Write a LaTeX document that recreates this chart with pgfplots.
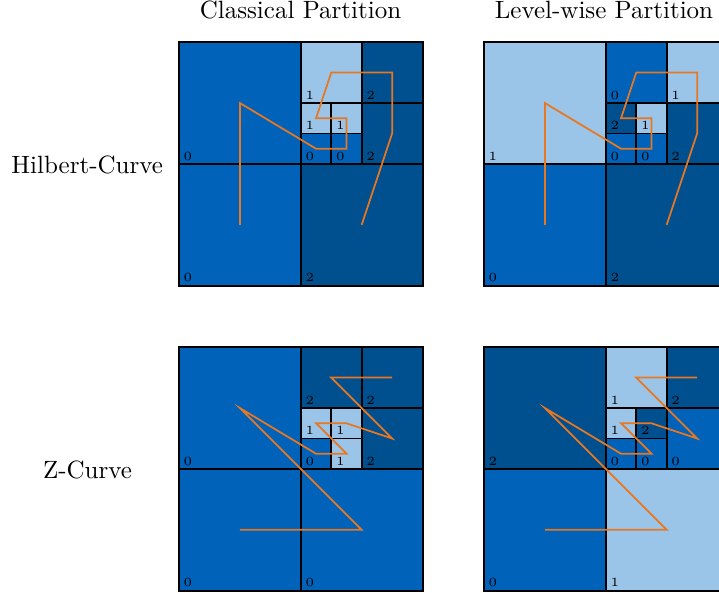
\documentclass[border=0pt]{standalone}
\usepackage{pgfplots}
\pgfplotsset{compat=1.18}

\definecolor{lv0}{HTML}{0062B8}
\definecolor{lv1}{HTML}{9BC5E8}
\definecolor{lv2}{HTML}{00508F}
\definecolor{curve}{HTML}{E87722}

% one partition cell: x0, y0, x1, y1, level value (fill colour and corner label)
\newcommand{\cell}[5]{%
  \addplot[draw=black, line width=0.65pt, fill=lv#5] coordinates {(#1,#2) (#3,#2) (#3,#4) (#1,#4)} -- cycle;
  \node[cellnum] at (axis cs:#1,#2) {#5};
}

\pgfplotsset{
  quadgrid/.style={
    anchor=south west,
    xmin=0, xmax=4, ymin=0, ymax=4,
    x=24.36pt, y=24.36pt,
    enlargelimits=false,
    xtick=\empty, ytick=\empty,
    axis line style={line width=0.85pt},
    axis on top, clip=false,
  },
  sfc/.style={color=curve, line width=0.7pt, mark=none},
}
\tikzset{cellnum/.style={anchor=base west, inner sep=0pt, font=\tiny, xshift=1.7pt, yshift=1.5pt}}

\begin{document}
\begin{tikzpicture}

% Hilbert curve, classical partition
\begin{axis}[quadgrid, at={(71.6pt,122.9pt)}]
  \cell{0}{0}{2}{2}{0}
  \cell{0}{2}{2}{4}{0}
  \cell{2}{0}{4}{2}{2}
  \cell{2}{3}{3}{4}{1}
  \cell{3}{3}{4}{4}{2}
  \cell{3}{2}{4}{3}{2}
  \cell{2}{2}{2.5}{2.5}{0}
  \cell{2.5}{2}{3}{2.5}{0}
  \cell{2}{2.5}{2.5}{3}{1}
  \cell{2.5}{2.5}{3}{3}{1}
  \addplot[sfc] coordinates {(1,1) (1,3) (2.25,2.25) (2.75,2.25) (2.75,2.75) (2.25,2.75) (2.5,3.5) (3.5,3.5) (3.5,2.5) (3,1)};
\end{axis}

% Hilbert curve, level-wise partition
\begin{axis}[quadgrid, at={(193.6pt,122.9pt)}]
  \cell{0}{0}{2}{2}{0}
  \cell{0}{2}{2}{4}{1}
  \cell{2}{0}{4}{2}{2}
  \cell{2}{3}{3}{4}{0}
  \cell{3}{3}{4}{4}{1}
  \cell{3}{2}{4}{3}{2}
  \cell{2}{2}{2.5}{2.5}{0}
  \cell{2.5}{2}{3}{2.5}{0}
  \cell{2}{2.5}{2.5}{3}{2}
  \cell{2.5}{2.5}{3}{3}{1}
  \addplot[sfc] coordinates {(1,1) (1,3) (2.25,2.25) (2.75,2.25) (2.75,2.75) (2.25,2.75) (2.5,3.5) (3.5,3.5) (3.5,2.5) (3,1)};
\end{axis}

% Z curve, classical partition
\begin{axis}[quadgrid, at={(71.6pt,0.9pt)}]
  \cell{0}{0}{2}{2}{0}
  \cell{0}{2}{2}{4}{0}
  \cell{2}{0}{4}{2}{0}
  \cell{2}{3}{3}{4}{2}
  \cell{3}{3}{4}{4}{2}
  \cell{3}{2}{4}{3}{2}
  \cell{2}{2}{2.5}{2.5}{0}
  \cell{2.5}{2}{3}{2.5}{1}
  \cell{2}{2.5}{2.5}{3}{1}
  \cell{2.5}{2.5}{3}{3}{1}
  \addplot[sfc] coordinates {(1,1) (3,1) (1,3) (2.25,2.25) (2.75,2.25) (2.25,2.75) (2.75,2.75) (3.5,2.5) (2.5,3.5) (3.5,3.5)};
\end{axis}

% Z curve, level-wise partition
\begin{axis}[quadgrid, at={(193.6pt,0.9pt)}]
  \cell{0}{0}{2}{2}{0}
  \cell{0}{2}{2}{4}{2}
  \cell{2}{0}{4}{2}{1}
  \cell{2}{3}{3}{4}{1}
  \cell{3}{3}{4}{4}{2}
  \cell{3}{2}{4}{3}{0}
  \cell{2}{2}{2.5}{2.5}{0}
  \cell{2.5}{2}{3}{2.5}{0}
  \cell{2}{2.5}{2.5}{3}{1}
  \cell{2.5}{2.5}{3}{3}{2}
  \addplot[sfc] coordinates {(1,1) (3,1) (1,3) (2.25,2.25) (2.75,2.25) (2.25,2.75) (2.75,2.75) (3.5,2.5) (2.5,3.5) (3.5,3.5)};
\end{axis}

% column and row headings
\node[anchor=base] at (120.2pt,229.9pt) {Classical Partition};
\node[anchor=base] at (241.6pt,229.9pt) {Level-wise Partition};
\node[anchor=base] at (34.9pt,167.9pt) {Hilbert-Curve};
\node[anchor=base] at (35.0pt,45.9pt) {Z-Curve};

\pgfresetboundingbox
\path[use as bounding box] (0pt,0pt) rectangle (287.6pt,237.2pt);
\end{tikzpicture}
\end{document}
